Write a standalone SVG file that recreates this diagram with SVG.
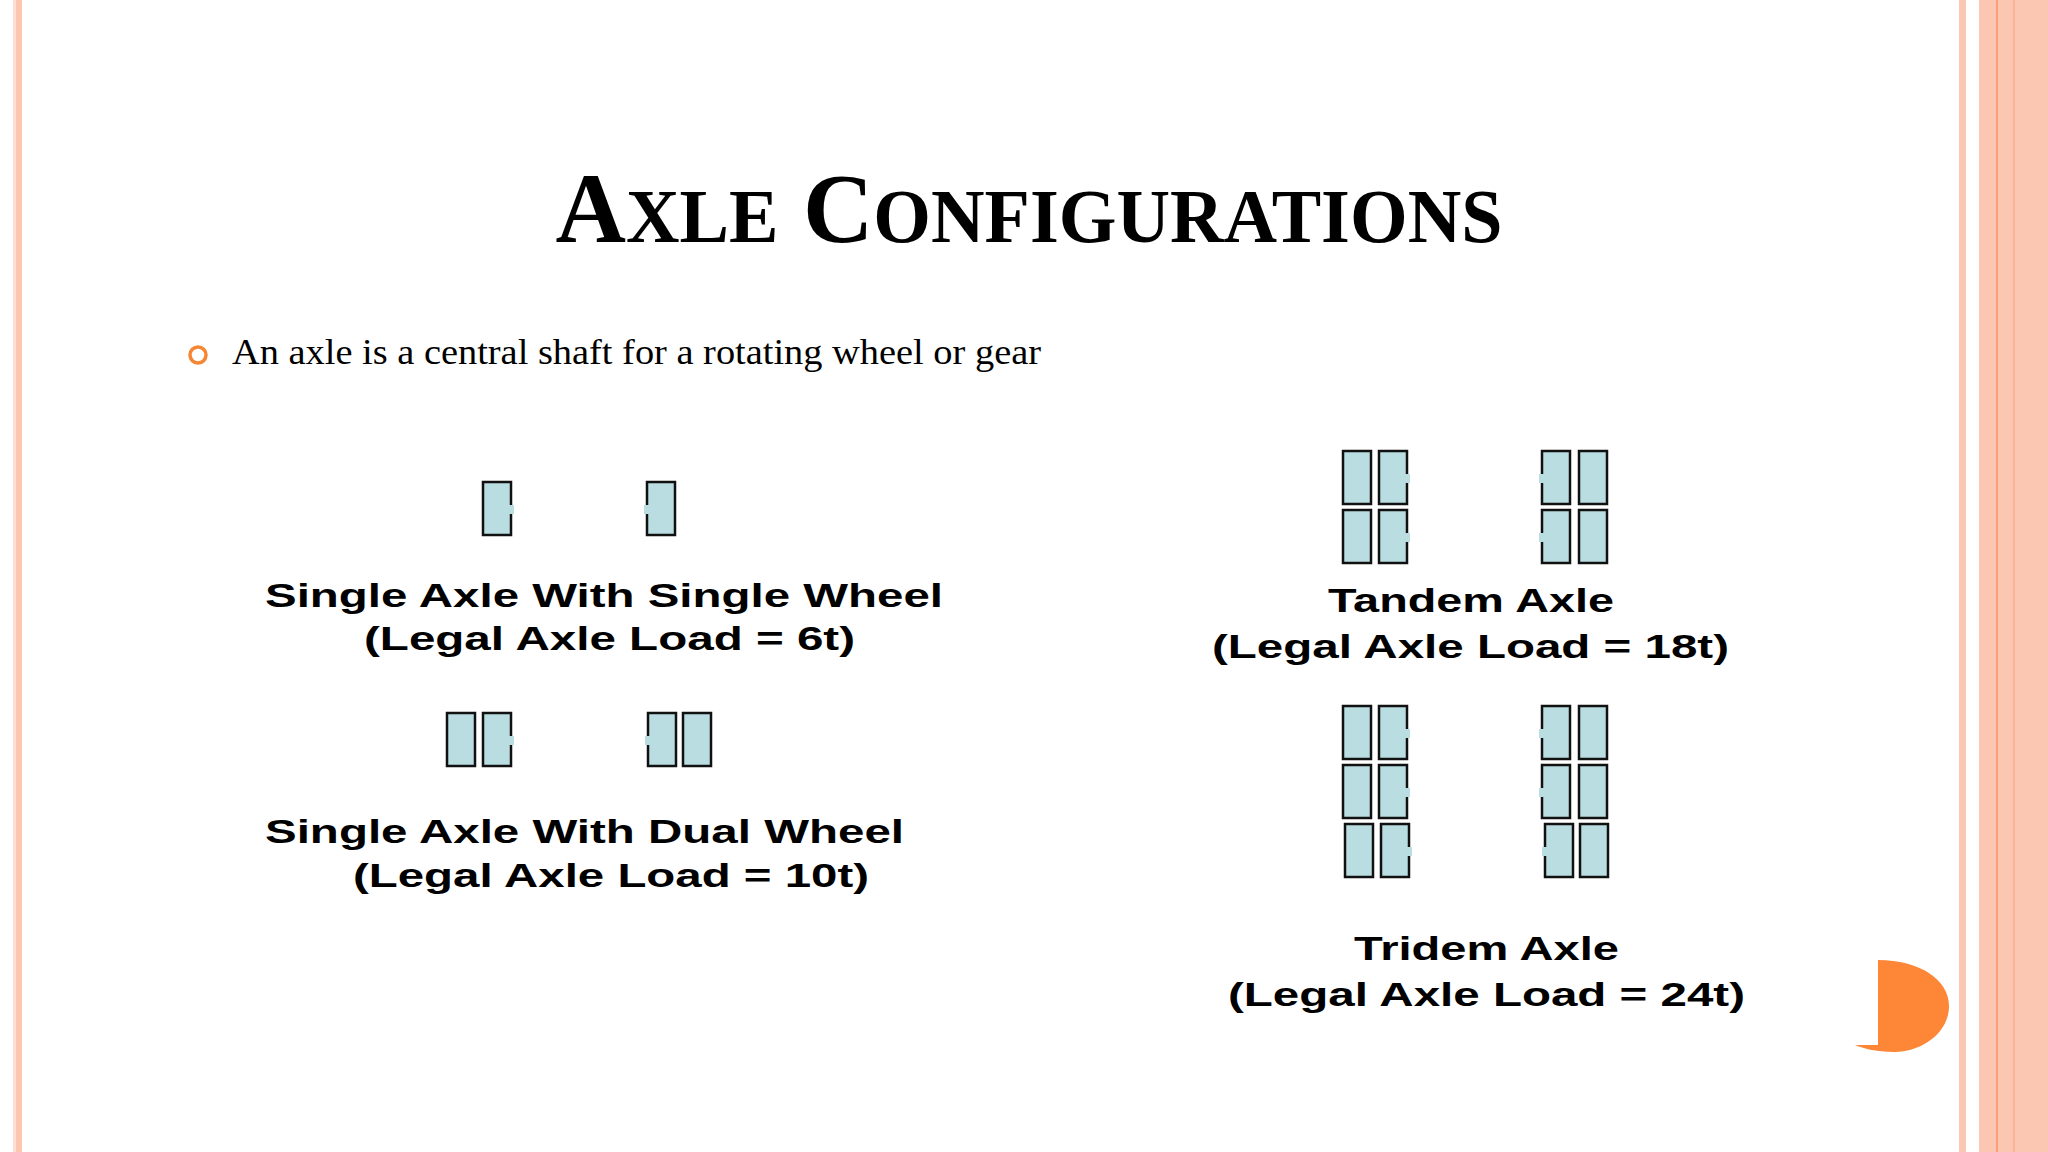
<svg xmlns="http://www.w3.org/2000/svg" width="2048" height="1152" viewBox="0 0 2048 1152">
<style>
.w{fill:#b9dde0;stroke:#111;stroke-width:2.5}
.g{fill:#b9dde0}
.lbl{font-family:"Liberation Sans",Arial,sans-serif;font-weight:bold;font-size:34px;fill:#000}
</style>
<defs>
<g id="wr"><rect class="w" x="0" y="0" width="28" height="53"/><rect class="g" x="25" y="23" width="6" height="9"/></g>
<g id="wl"><rect class="w" x="0" y="0" width="28" height="53"/><rect class="g" x="-3" y="23" width="6" height="9"/></g>
<g id="wp"><rect class="w" x="0" y="0" width="28" height="53"/></g>
</defs>
<rect width="2048" height="1152" fill="#fff"/>
<rect x="13" y="0" width="9" height="1152" fill="#fbc7b3"/>
<rect x="13" y="0" width="3" height="1152" fill="#fde0d4"/>
<rect x="1959" y="0" width="7" height="1152" fill="#fbc7b3"/>
<rect x="1979" y="0" width="69" height="1152" fill="#fbc7b3"/>
<line x1="1997" y1="0" x2="1997" y2="1152" stroke="#f9a07a" stroke-width="2"/>
<line x1="2014" y1="0" x2="2014" y2="1152" stroke="#f9b497" stroke-width="2"/>
<g id="title"><text x="1029" y="242" text-anchor="middle" font-family="Liberation Serif,serif" font-weight="bold" font-size="100" textLength="947" lengthAdjust="spacingAndGlyphs">A<tspan font-size="76">XLE</tspan> C<tspan font-size="76">ONFIGURATIONS</tspan></text></g>
<g id="bullet"><circle cx="198" cy="355" r="8" fill="none" stroke="#f58634" stroke-width="3.5"/>
<text x="232" y="364" font-family="Liberation Serif,serif" font-size="35" textLength="809" lengthAdjust="spacingAndGlyphs">An axle is a central shaft for a rotating wheel or gear</text></g>
<g id="single">
<use href="#wr" x="483" y="482"/><use href="#wl" x="647" y="482"/>
<text class="lbl" x="265" y="607" textLength="678" lengthAdjust="spacingAndGlyphs">Single Axle With Single Wheel</text>
<text class="lbl" x="364" y="650" textLength="491" lengthAdjust="spacingAndGlyphs">(Legal Axle Load = 6t)</text>
</g>
<g id="dual">
<use href="#wp" x="447" y="713"/><use href="#wr" x="483" y="713"/>
<use href="#wl" x="648" y="713"/><use href="#wp" x="683" y="713"/>
<text class="lbl" x="265" y="843" textLength="639" lengthAdjust="spacingAndGlyphs">Single Axle With Dual Wheel</text>
<text class="lbl" x="353" y="887" textLength="516" lengthAdjust="spacingAndGlyphs">(Legal Axle Load = 10t)</text>
</g>
<g id="tandem">
<use href="#wp" x="1343" y="451"/><use href="#wr" x="1379" y="451"/><use href="#wl" x="1542" y="451"/><use href="#wp" x="1579" y="451"/>
<use href="#wp" x="1343" y="510"/><use href="#wr" x="1379" y="510"/><use href="#wl" x="1542" y="510"/><use href="#wp" x="1579" y="510"/>
<text class="lbl" x="1328" y="612" textLength="286" lengthAdjust="spacingAndGlyphs">Tandem Axle</text>
<text class="lbl" x="1212" y="658" textLength="517" lengthAdjust="spacingAndGlyphs">(Legal Axle Load = 18t)</text>
</g>
<g id="tridem">
<use href="#wp" x="1343" y="706"/><use href="#wr" x="1379" y="706"/><use href="#wl" x="1542" y="706"/><use href="#wp" x="1579" y="706"/>
<use href="#wp" x="1343" y="765"/><use href="#wr" x="1379" y="765"/><use href="#wl" x="1542" y="765"/><use href="#wp" x="1579" y="765"/>
<use href="#wp" x="1345" y="824"/><use href="#wr" x="1381" y="824"/><use href="#wl" x="1545" y="824"/><use href="#wp" x="1580" y="824"/>
<text class="lbl" x="1354" y="960" textLength="265" lengthAdjust="spacingAndGlyphs">Tridem Axle</text>
<text class="lbl" x="1228" y="1006" textLength="517" lengthAdjust="spacingAndGlyphs">(Legal Axle Load = 24t)</text>
</g>
<path d="M1878,960 C1920,960 1949,980 1949,1006 C1949,1034 1920,1052 1895,1052 C1875,1052 1862,1048 1855,1045 L1878,1045 Z" fill="#fd8637"/>
</svg>
